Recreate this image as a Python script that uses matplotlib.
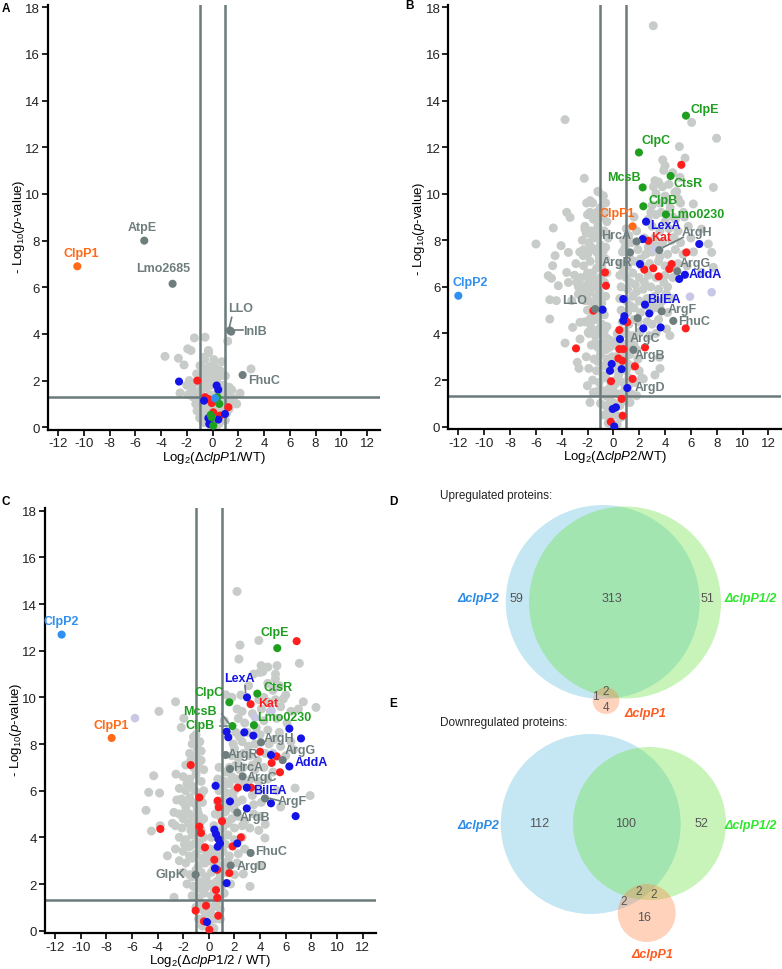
import numpy as np
import matplotlib
matplotlib.use("Agg")
import matplotlib.pyplot as plt
from matplotlib.patches import Circle

plt.rcParams['font.family'] = ['Liberation Sans', 'DejaVu Sans']
plt.rcParams['mathtext.fontset'] = 'custom'
plt.rcParams['mathtext.rm'] = 'Liberation Sans'
plt.rcParams['mathtext.it'] = 'Liberation Sans:italic'
plt.rcParams['mathtext.bf'] = 'Liberation Sans:bold'

# ---------------- colours ----------------
C_GREY = '#c8ccc9'
C_DARK = '#6e7d7d'
C_RED = '#ff1f1f'
C_BLUE = '#1414e6'
C_GREEN = '#1f9f1f'
C_ORANGE = '#ff6a1a'
C_LBLUE = '#3090f0'
C_LAV = '#c8c8e6'
C_LINE = '#6b7b7b'

# ---------------- Panel A data ----------------
a_grey = [(-1.41, 3.83), (-0.58, 3.86), (-1.93, 3.36), (-1.67, 3.29), (-0.32, 3.29), (-3.69, 3.04),
          (-2.65, 2.96), (-0.66, 3.0), (1.18, 3.69), (-2.21, 2.67), (0.71, 2.81), (2.99, 2.5),
          (0.06, 2.71), (-0.97, 2.64), (-0.58, 2.5), (-1.23, 2.29), (0.19, 2.36), (0.58, 2.43),
          (-1.8, 2.0), (-0.84, 2.07), (-0.32, 2.14), (1.31, 1.71), (2.14, 1.46), (-2.52, 1.47),
          (-1.54, 1.53), (1.62, 1.24), (1.88, 1.0),
          (-1.5, 1.3), (-1.2, 1.5), (-0.9, 1.6), (-0.5, 1.7), (-0.1, 1.8), (0.4, 1.5), (0.8, 1.4),
          (1.1, 1.3), (1.4, 1.1), (-1.3, 1.0), (-1.0, 1.1), (-0.6, 1.3), (-0.2, 1.4), (0.2, 1.2),
          (0.6, 1.1), (1.0, 1.0), (1.3, 0.8), (-1.2, 0.7), (-0.8, 0.8), (-0.4, 0.9), (0.0, 0.9),
          (0.4, 0.8), (0.8, 0.7), (1.1, 0.6), (-1.0, 0.4), (-0.6, 0.5), (-0.2, 0.6), (0.3, 0.5),
          (0.7, 0.4), (1.0, 0.3), (-0.7, 0.2), (-0.3, 0.25), (0.1, 0.2), (0.5, 0.15), (-0.1, 0.05),
          (0.3, 0.05), (-1.6, 1.7), (-0.9, 2.2), (-0.3, 2.3), (0.3, 2.0), (0.9, 1.8), (1.5, 1.6),
          (-1.9, 1.4), (0.1, 2.9), (-0.3, 3.2), (0.3, 2.5), (1.0, 2.2), (-0.6, 2.9), (0.6, 2.2),
          (-1.4, 1.9), (-1.1, 1.3), (-0.8, 1.2), (-0.4, 1.1), (0.1, 1.0), (0.5, 1.3), (0.9, 1.2),
          (1.2, 1.0), (-0.9, 0.6), (-0.5, 0.7), (0.1, 0.6), (0.6, 0.6), (0.9, 0.5), (-0.4, 0.4),
          (0.2, 0.35), (-0.8, 1.8), (-0.4, 2.0), (0.0, 2.3), (0.6, 1.8), (1.2, 1.5), (-2.0, 1.8),
          (-0.2, 2.6)]
a_red = [(-1.18, 2.0), (-0.32, 1.21), (-0.06, 1.04), (1.23, 0.86), (0.06, 0.64), (0.58, 0.5),
         (-0.19, 0.29), (-0.58, 1.29)]
a_blue = [(-2.6, 1.96), (0.32, 1.79), (0.45, 1.61), (-0.66, 1.14), (-0.32, 0.39), (0.45, 0.33),
          (0.97, 0.57), (-0.25, 0.14)]
a_green = [(0.53, 1.0), (-0.06, 0.43), (0.06, 0.07), (-0.14, 0.53), (0.38, 1.29)]
a_lblue = [(0.19, 1.24)]
a_dark = [(-5.3, 8.0), (-3.1, 6.15), (1.35, 4.15), (1.45, 4.1), (2.34, 2.24)]
a_orange = [(-10.5, 6.9)]
a_labels = [("ClpP1", -10.16, 7.47, C_ORANGE), ("AtpE", -5.42, 8.59, C_DARK),
            ("Lmo2685", -3.82, 6.84, C_DARK), ("LLO", 2.19, 5.11, C_DARK),
            ("InlB", 3.3, 4.14, C_DARK), ("FhuC", 4.0, 2.04, C_DARK)]
a_lines = [((1.49, 4.71), (1.31, 4.29)), ((1.75, 4.15), (2.4, 4.15))]

# ---------------- Panel B data ----------------
b_grey = [(3.09, 17.21), (-3.74, 13.18), (6.06, 13.06), (7.99, 12.38), (5.11, 12.02), (5.55, 11.53),
          (3.82, 11.45), (4.0, 11.2), (-2.25, 10.66), (3.22, 10.56), (5.16, 10.7), (7.74, 10.27),
          (-1.16, 10.09), (-0.78, 9.91), (-2.07, 9.6), (4.77, 10.06), (5.03, 9.77), (6.19, 9.56),
          (5.42, 9.2), (-3.61, 9.2), (-3.35, 8.98), (-1.81, 9.2), (-1.55, 8.91), (-4.65, 8.53),
          (-2.2, 8.48), (6.83, 8.48), (-5.99, 7.84), (-4.05, 7.77), (-3.48, 7.48), (-4.51, 7.34),
          (-2.33, 7.34), (4.69, 8.13), (7.35, 7.84), (7.61, 7.48), (-4.7, 6.91), (-5.04, 6.48),
          (-4.79, 6.37), (-3.61, 6.62), (-4.26, 6.05), (-3.48, 6.19), (-2.84, 6.19), (-2.45, 6.05),
          (-2.07, 6.05), (-1.81, 5.77), (-4.92, 5.45), (-4.41, 5.41), (-2.71, 5.69), (-3.22, 5.41),
          (-2.2, 5.41), (7.74, 6.84), (6.83, 6.62), (-4.92, 4.62), (-3.15, 4.26),
          (-2.58, 4.48), (-1.81, 4.62), (-3.74, 3.59), (-2.58, 3.76), (-1.94, 4.05), (4.38, 3.91),
          (4.12, 4.19), (3.56, 2.98), (3.61, 2.5), (3.22, 2.22), (2.32, 2.05), (-2.66, 2.5),
          (-2.79, 2.76), (-2.01, 1.76), (-1.55, 1.47), (-1.81, 1.04), (1.29, 1.04), (1.8, 1.33),
          (-1.2, 10.1), (-0.8, 9.9), (-1.6, 9.6), (-1.0, 9.4), (-0.6, 9.6),
          (-2.0, 9.1), (-1.4, 8.9), (-0.9, 9.0), (-0.5, 8.8),
          (-2.2, 8.6), (-1.7, 8.4), (-1.2, 8.6), (-0.7, 8.4), (-0.4, 8.1),
          (-2.4, 8.0), (-1.9, 7.9), (-1.4, 8.1), (-1.0, 7.8), (-0.6, 7.7),
          (-2.6, 7.5), (-2.0, 7.4), (-1.5, 7.6), (-1.1, 7.3), (-0.6, 7.2),
          (-2.9, 7.0), (-2.3, 6.9), (-1.8, 7.1), (-1.3, 6.8), (-0.9, 6.9), (-0.5, 6.6),
          (-3.0, 6.5), (-2.5, 6.4), (-2.0, 6.6), (-1.5, 6.3), (-1.0, 6.4),
          (-2.7, 6.0), (-2.2, 5.9), (-1.6, 6.0), (-1.1, 5.8),
          (-2.4, 5.5), (-1.9, 5.4), (-1.3, 5.6), (-0.9, 5.3),
          (-2.0, 5.0), (-1.6, 4.9), (-1.2, 5.1), (-0.7, 4.8),
          (-2.2, 4.5), (-1.8, 4.4), (-1.4, 4.6), (-0.9, 4.4), (-0.5, 4.3),
          (-1.9, 4.0), (-1.4, 3.9), (-1.0, 4.0), (-0.5, 3.8),
          (-1.7, 3.5), (-1.2, 3.4), (-0.8, 3.6), (-0.3, 3.4),
          (-2.1, 3.0), (-1.5, 2.9), (-1.0, 3.1), (-0.5, 2.9), (-0.1, 3.0),
          (-1.9, 2.5), (-1.3, 2.4), (-0.8, 2.6), (-0.3, 2.4),
          (-1.6, 2.0), (-1.1, 1.9), (-0.6, 2.1), (-0.2, 1.9),
          (-1.3, 1.5), (-0.8, 1.4), (-0.4, 1.6),
          (-1.0, 1.0), (-0.6, 0.9), (-0.2, 1.1),
          (-0.7, 0.5), (-0.3, 0.4), (-0.4, 0.15),
          (0.3, 4.0), (0.9, 4.1), (1.4, 3.9),
          (0.1, 3.5), (0.6, 3.6), (1.1, 3.4), (1.6, 3.5),
          (0.2, 3.0), (0.9, 2.9), (1.3, 3.1), (1.9, 2.9),
          (0.0, 2.5), (0.5, 2.6), (1.0, 2.4), (1.5, 2.6), (2.0, 2.4),
          (0.2, 2.0), (0.7, 1.9), (1.2, 2.1), (1.7, 1.9), (2.2, 2.1),
          (0.0, 1.5), (0.4, 1.4), (0.9, 1.6), (1.4, 1.4),
          (0.1, 1.0), (0.5, 0.9), (1.0, 1.1),
          (0.2, 0.5), (0.6, 0.4), (0.3, 0.1),
          (3.9, 11.0), (4.6, 10.9), (3.5, 10.5), (4.3, 10.4),
          (3.3, 10.0), (4.0, 9.9), (4.9, 10.1),
          (3.0, 9.5), (3.6, 9.6), (4.4, 9.4), (5.2, 9.6),
          (1.6, 9.0), (2.7, 8.9), (3.3, 9.1), (4.8, 8.9), (5.5, 9.0),
          (1.0, 8.5), (1.8, 8.4), (3.0, 8.6), (3.6, 8.4), (4.3, 8.5), (5.0, 8.4), (5.8, 8.6),
          (0.8, 8.0), (1.4, 7.9), (3.2, 8.1), (3.8, 7.9), (4.5, 8.0), (5.2, 7.9), (6.0, 8.1),
          (0.7, 7.5), (1.2, 7.4), (1.9, 7.6), (2.5, 7.4), (3.0, 7.5), (4.2, 7.4), (4.8, 7.6),
          (5.4, 7.4), (6.2, 7.5),
          (0.6, 7.0), (1.1, 6.9), (1.6, 7.1), (2.2, 6.9), (2.8, 7.0), (3.5, 7.1), (4.0, 6.9),
          (5.0, 7.0), (5.7, 6.9),
          (0.5, 6.5), (1.0, 6.4), (1.5, 6.6), (2.0, 6.4), (2.7, 6.5), (3.3, 6.4), (4.0, 6.5),
          (4.6, 6.4),
          (0.6, 6.0), (1.1, 5.9), (1.7, 6.1), (2.3, 5.9), (2.9, 6.0), (3.5, 5.9), (4.2, 6.0),
          (0.5, 5.5), (1.0, 5.4), (1.5, 5.6), (2.0, 5.4), (2.6, 5.5), (3.2, 5.6), (3.8, 5.4),
          (4.5, 5.5),
          (0.6, 5.0), (1.1, 4.9), (1.6, 5.1), (2.1, 4.9), (2.9, 5.0), (3.4, 5.1), (4.2, 4.9),
          (0.7, 4.5), (1.2, 4.4), (1.6, 4.6), (2.6, 4.5), (3.0, 4.4), (3.5, 4.6),
          (1.0, 4.0), (1.6, 3.9), (2.1, 4.1), (2.8, 3.9), (3.3, 4.0),
          (-1.8, 9.7), (-1.3, 9.2), (-0.7, 9.2), (-1.1, 8.3), (-1.6, 8.2), (-2.1, 8.3), (-0.8, 7.5),
          (-1.3, 7.5), (-1.7, 7.7), (-2.3, 7.6), (-1.1, 7.1), (-1.6, 6.6), (-0.7, 6.2), (-1.3, 6.1),
          (-1.9, 6.3), (-0.6, 5.6), (-1.1, 5.5), (-1.6, 5.3), (-2.1, 5.6), (-0.9, 4.9), (-1.4, 4.8),
          (-1.7, 4.2), (-1.1, 4.2), (-0.7, 4.1), (-1.4, 3.6), (-1.0, 3.5), (-0.6, 3.3), (-0.2, 3.7),
          (-1.2, 2.8), (-0.8, 2.2), (-0.4, 2.7), (-1.0, 1.6), (-0.5, 1.3), (-0.4, 0.7), (0.0, 0.7),
          (0.1, 1.8), (0.4, 2.2), (0.3, 2.8), (0.6, 3.1), (0.4, 3.8), (0.7, 1.3), (1.2, 1.8),
          (1.1, 2.7), (1.3, 3.6), (0.9, 3.3), (1.8, 3.3), (1.9, 4.5), (1.3, 5.2), (1.8, 5.8),
          (1.3, 6.2), (0.8, 6.7), (1.3, 7.2), (0.9, 7.7), (1.2, 8.2), (2.4, 6.2), (2.5, 5.2),
          (2.1, 7.2), (2.4, 8.1), (2.7, 7.7), (3.2, 7.8), (3.6, 7.3), (3.9, 6.2), (3.1, 5.3),
          (3.6, 5.1), (4.1, 5.7), (4.4, 6.8), (4.8, 6.9), (4.0, 8.8), (3.8, 10.3), (4.2, 9.7),
          (4.6, 9.0), (2.9, 9.2), (3.1, 10.3), (3.7, 9.2)]
b_lav = [(7.61, 5.77), (5.93, 5.58), (3.2, 7.6)]
b_red = [(5.26, 11.24), (5.65, 7.48), (2.4, 6.74), (3.09, 6.8), (3.51, 6.45), (4.51, 6.98),
         (4.33, 6.77), (-0.65, 6.62), (-0.57, 6.05), (-1.55, 4.98), (1.08, 4.48), (0.46, 4.15),
         (-2.89, 3.36), (0.46, 3.33), (0.77, 3.33), (0.39, 2.93), (0.7, 2.83), (1.67, 2.59),
         (2.45, 3.4), (1.49, 2.05), (-0.18, 1.95), (0.64, 1.19), (0.72, 0.47), (-0.2, 0.21),
         (5.6, 4.22), (0.95, 4.55), (2.71, 7.98)]
b_blue = [(2.27, 8.05), (2.06, 6.98), (6.65, 7.84), (0.77, 5.48), (-0.83, 5.02), (0.85, 4.74),
          (0.77, 4.55), (2.78, 4.86), (2.32, 4.22), (3.66, 4.26), (0.51, 3.76), (-0.13, 2.69),
          (-0.26, 2.4), (0.64, 2.47), (-0.05, 0.76), (0.2, 0.83), (0.07, 0.01), (2.53, 8.8),
          (5.54, 6.52), (5.1, 6.34), (2.45, 5.24), (1.08, 1.66)]
b_green = [(5.62, 13.35), (1.98, 11.77), (2.27, 10.27), (4.43, 10.76), (2.32, 9.46), (4.07, 9.11)]
b_dark = [(1.8, 7.95), (3.56, 7.58), (1.29, 7.48), (4.95, 6.67), (3.74, 4.95), (4.64, 4.54),
          (1.88, 4.66), (1.55, 3.3), (-1.4, 5.05)]
b_orange = [(1.49, 8.6)]
b_lblue = [(-12.0, 5.62)]
b_labels = [("ClpP2", -11.05, 6.19, C_LBLUE), ("ClpE", 7.09, 13.63, C_GREEN),
            ("ClpC", 3.27, 12.3, C_GREEN), ("McsB", 0.82, 10.7, C_GREEN),
            ("CtsR", 5.75, 10.46, C_GREEN), ("ClpB", 3.82, 9.73, C_GREEN),
            ("Lmo0230", 6.5, 9.13, C_GREEN), ("ClpP1", 0.31, 9.16, C_ORANGE),
            ("LexA", 4.0, 8.66, C_BLUE), ("HrcA", 0.18, 8.23, C_DARK), ("Kat", 3.74, 8.15, C_RED),
            ("ArgH", 6.45, 8.34, C_DARK), ("ArgR", 0.25, 7.05, C_DARK),
            ("ArgG", 6.32, 7.01, C_DARK), ("AddA", 7.09, 6.55, C_BLUE), ("LLO", -2.97, 5.44, C_DARK),
            ("BilEA", 3.92, 5.48, C_BLUE), ("ArgF", 5.34, 5.05, C_DARK), ("FhuC", 6.24, 4.54, C_DARK),
            ("ArgC", 2.45, 3.79, C_DARK), ("ArgB", 2.84, 3.08, C_DARK), ("ArgD", 2.84, 1.72, C_DARK)]
b_lines = [((3.87, 7.7), (5.41, 8.13)), ((1.75, 4.4), (1.75, 4.12))]

# ---------------- Panel C data ----------------
c_grey = [(2.2, 14.54), (3.9, 12.44), (2.43, 12.24), (2.35, 11.64), (4.08, 11.36), (5.32, 11.36),
          (7.06, 11.46), (3.98, 11.07), (1.32, 10.11), (5.19, 10.79), (5.81, 9.93), (7.37, 9.81),
          (8.36, 9.57), (6.99, 9.5), (-2.59, 9.81), (-3.89, 9.4), (-1.95, 9.1), (-2.15, 8.71),
          (-1.05, 8.07), (6.6, 7.76), (6.73, 6.11), (7.9, 5.79), (-2.56, 6.71), (-4.3, 6.64),
          (-4.69, 5.93), (-3.84, 5.9), (-4.9, 5.16), (-2.14, 5.64), (-2.72, 5.07), (-2.84, 4.6),
          (-4.48, 4.27), (-3.8, 4.5), (-3.23, 3.21), (-2.71, 1.43), (3.21, 1.9), (4.38, 3.97),
          (4.4, 4.56), (3.99, 2.79), (2.69, 2.43),
          (-1.0, 8.4), (-0.7, 8.1), (-1.3, 8.0),
          (-1.5, 7.6), (-1.0, 7.5), (-0.6, 7.7),
          (-1.8, 7.1), (-1.2, 7.0), (-0.8, 7.2), (-0.4, 6.9),
          (-2.0, 6.6), (-1.5, 6.5), (-1.0, 6.7), (-0.6, 6.4),
          (-2.3, 6.1), (-1.8, 6.0), (-1.3, 6.2), (-0.8, 5.9), (-0.4, 6.0),
          (-2.5, 5.6), (-2.0, 5.5), (-1.5, 5.7), (-1.0, 5.4), (-0.5, 5.5),
          (-2.3, 5.0), (-1.8, 5.1), (-1.3, 4.9), (-0.8, 5.0), (-0.4, 4.8),
          (-2.6, 4.5), (-2.1, 4.4), (-1.6, 4.6), (-1.1, 4.5), (-0.6, 4.3),
          (-2.3, 4.0), (-1.8, 3.9), (-1.3, 4.1), (-0.9, 3.8), (-0.4, 4.0),
          (-2.6, 3.5), (-2.0, 3.4), (-1.5, 3.6), (-1.0, 3.3), (-0.5, 3.5), (-0.1, 3.3),
          (-2.3, 3.0), (-1.8, 2.9), (-1.3, 3.1), (-0.8, 2.8), (-0.3, 2.9),
          (-2.0, 2.5), (-1.5, 2.4), (-0.6, 2.5), (-0.2, 2.3),
          (-1.7, 2.0), (-1.2, 1.9), (-0.7, 2.1), (-0.3, 1.8),
          (-1.3, 1.5), (-0.8, 1.4), (-0.4, 1.6),
          (-1.0, 1.0), (-0.5, 0.9), (-0.1, 1.1),
          (-0.8, 0.5), (-0.3, 0.6), (-0.5, 0.2), (0.0, 0.3),
          (0.5, 5.0), (0.9, 4.9), (1.3, 5.1), (1.8, 4.8), (2.3, 4.9), (2.8, 4.7),
          (0.4, 4.5), (1.1, 4.4), (1.5, 4.6), (2.0, 4.4), (2.6, 4.5), (3.2, 4.4),
          (0.2, 4.0), (1.0, 3.9), (1.5, 4.1), (2.0, 3.9), (2.6, 4.0),
          (0.1, 3.5), (0.4, 3.3), (1.1, 3.4), (1.6, 3.2), (2.3, 3.3), (2.8, 3.5),
          (0.0, 3.0), (0.6, 2.9), (1.1, 2.8), (1.5, 3.0), (2.2, 2.9),
          (0.2, 2.5), (0.9, 2.4), (1.3, 2.5), (2.0, 2.4),
          (0.1, 2.0), (0.6, 2.1), (1.0, 1.9), (1.7, 2.0),
          (0.2, 1.5), (0.8, 1.4), (1.2, 1.6),
          (0.3, 1.0), (0.9, 0.9), (0.5, 0.5), (0.9, 0.5), (0.4, 0.1),
          (3.5, 11.0), (4.2, 11.1), (5.2, 11.0), (4.6, 11.3),
          (3.1, 10.5), (4.6, 10.6), (5.5, 10.5),
          (1.8, 10.0), (2.5, 10.1), (4.3, 10.0), (5.2, 9.9), (6.0, 10.1),
          (2.2, 9.5), (4.1, 9.5), (4.8, 9.4), (5.6, 9.6), (6.4, 9.4),
          (1.2, 9.0), (2.3, 9.1), (2.8, 8.9), (4.3, 9.0), (5.3, 9.1), (6.1, 8.9),
          (2.1, 8.5), (4.0, 8.4), (4.6, 8.6), (5.5, 8.5),
          (1.9, 8.0), (2.6, 8.1), (3.1, 7.9), (3.6, 8.0), (4.7, 8.0), (5.6, 7.9), (6.4, 8.1),
          (1.8, 7.5), (2.3, 7.4), (3.2, 7.5), (3.8, 7.3), (4.4, 7.6), (6.0, 7.5),
          (0.8, 7.0), (1.3, 6.8), (2.1, 7.1), (2.7, 7.0), (3.6, 6.9), (4.3, 7.0), (5.0, 6.8),
          (0.7, 6.5), (1.2, 6.4), (1.8, 6.6), (2.4, 6.3), (3.3, 6.5), (3.9, 6.4), (4.6, 6.5),
          (0.8, 6.0), (1.4, 5.9), (2.0, 6.0), (3.4, 5.8), (3.9, 6.0), (5.3, 6.0),
          (0.7, 5.5), (1.1, 5.6), (2.2, 5.5), (2.6, 5.6), (3.5, 5.4), (4.1, 5.5), (5.6, 5.3),
          (3.5, 5.0), (4.0, 4.9), (3.9, 4.3),
          (-1.2, 8.3), (-0.9, 7.8), (-1.4, 7.3), (-0.6, 7.3), (-1.0, 6.9), (-1.7, 6.3), (-1.1, 6.0),
          (-0.6, 5.8), (-1.3, 5.5), (-1.8, 5.3), (-0.9, 5.2), (-1.5, 5.0), (-2.0, 4.8), (-1.0, 4.8),
          (-0.6, 4.7), (-1.4, 4.3), (-0.8, 4.2), (-1.9, 3.7), (-1.2, 3.7), (-0.7, 3.7), (-1.5, 3.2),
          (-0.5, 3.1), (-1.0, 2.6), (-1.3, 2.3), (-0.4, 2.1), (-0.9, 1.8), (-0.6, 1.2), (-0.2, 0.8),
          (0.2, 0.7), (0.6, 1.2), (0.4, 1.8), (0.8, 2.2), (0.4, 2.7), (0.8, 3.2), (1.3, 3.7),
          (0.7, 4.2), (1.2, 4.7), (0.9, 5.3), (1.5, 5.3), (2.0, 5.2), (1.9, 5.7), (1.1, 6.2),
          (1.6, 6.3), (2.1, 6.5), (2.9, 6.3), (1.6, 7.0), (2.4, 6.9), (2.0, 7.8), (2.7, 7.6),
          (3.4, 7.1), (2.4, 8.3), (3.0, 8.5), (3.7, 8.7), (2.6, 9.4), (3.4, 9.3), (3.9, 9.9),
          (4.6, 9.8), (5.0, 10.3), (5.1, 8.2), (5.0, 7.6)]
c_lav = [(-5.76, 9.11), (4.9, 9.43), (3.6, 9.14)]
c_red = [(6.85, 12.41), (3.26, 9.71), (3.99, 7.67), (5.29, 7.47), (4.9, 7.19), (5.55, 6.79),
         (-1.41, 7.1), (2.26, 6.13), (3.3, 6.13), (-0.74, 5.71), (0.69, 5.57), (0.77, 5.29),
         (1.03, 4.69), (-3.78, 4.36), (-0.74, 4.46), (-0.61, 4.19), (-0.3, 3.57), (2.5, 4.0),
         (1.85, 3.61), (0.43, 3.04), (0.66, 2.61), (1.6, 2.47), (0.56, 1.74), (0.66, 1.41),
         (-0.22, 1.07), (-1.03, 0.86), (0.74, 0.64), (-0.38, 0.4), (0.04, 0.04)]
c_blue = [(2.98, 10.0), (1.39, 8.53), (1.52, 8.29), (2.77, 8.5), (3.47, 8.36), (6.28, 8.66),
          (7.19, 8.24), (4.85, 7.53), (6.28, 7.04), (2.96, 6.13), (0.53, 6.21), (4.85, 5.46),
          (1.65, 5.54), (2.96, 5.24), (6.77, 4.91), (0.43, 4.33), (0.56, 4.14), (0.74, 3.93),
          (0.87, 3.74), (0.69, 3.6), (2.22, 3.74), (0.48, 2.67), (1.39, 2.04), (-0.14, 0.37)]
c_green = [(5.34, 12.11), (3.78, 10.16), (1.6, 9.79), (1.84, 8.77), (3.52, 8.81)]
c_dark = [(4.07, 8.07), (5.76, 7.31), (1.31, 7.53), (1.65, 6.93), (2.64, 6.61), (4.38, 5.67),
          (2.22, 5.06), (3.26, 3.33), (1.7, 2.79), (-1.03, 2.4)]
c_orange = [(-7.58, 8.26)]
c_lblue = [(-11.48, 12.69)]
c_labels = [("ClpP2", -11.48, 13.29, C_LBLUE), ("ClpP1", -7.63, 8.83, C_ORANGE),
            ("ClpE", 5.16, 12.81, C_GREEN), ("LexA", 2.35, 10.83, C_BLUE),
            ("CtsR", 5.37, 10.43, C_GREEN), ("ClpC", 0.01, 10.21, C_GREEN),
            ("Kat", 4.64, 9.74, C_RED), ("McsB", -0.69, 9.4, C_GREEN),
            ("Lmo0230", 5.86, 9.17, C_GREEN), ("ClpB", -0.69, 8.83, C_GREEN),
            ("ArgH", 5.47, 8.24, C_DARK), ("ArgG", 7.11, 7.74, C_DARK), ("ArgR", 2.69, 7.57, C_DARK),
            ("AddA", 7.97, 7.21, C_BLUE), ("HrcA", 3.03, 7.03, C_DARK), ("ArgC", 4.17, 6.57, C_DARK),
            ("BilEA", 4.77, 6.03, C_BLUE), ("ArgF", 6.51, 5.57, C_DARK), ("ArgB", 3.6, 4.86, C_DARK),
            ("FhuC", 4.85, 3.43, C_DARK), ("ArgD", 3.34, 2.79, C_DARK), ("GlpK", -3.03, 2.43, C_DARK)]
c_lines = [((2.82, 10.5), (2.87, 10.21)), ((1.0, 9.29), (1.6, 8.86)), ((0.87, 8.79), (1.39, 8.79)),
           ((4.77, 5.67), (5.5, 5.57))]

# ---------------- Venn data ----------------
up_counts = ["59", "313", "51", "1", "2", "4"]
down_counts = ["112", "100", "52", "2", "2", "2", "16"]
set_names = ["\u0394clpP2", "\u0394clpP1/2", "\u0394clpP1"]

xticks = [-12, -10, -8, -6, -4, -2, 0, 2, 4, 6, 8, 10, 12]
yticks = [0, 2, 4, 6, 8, 10, 12, 14, 16, 18]

W, H = 782, 970
fig = plt.figure(figsize=(W / 100, H / 100), dpi=100)

# full-figure overlay for venn + letters
ov = fig.add_axes([0, 0, 1, 1])
ov.set_xlim(0, W)
ov.set_ylim(H, 0)
ov.set_axis_off()


def volcano(rect, grey, lav, red, blue, green, dark, orange, lblue, labels, lines, xlabel, ylab_y):
    ax = fig.add_axes(rect)
    ax.set_xlim(-12.8, 13)
    ax.set_ylim(-0.1, 18.1)

    def sc(pts, col, z, s):
        if pts:
            arr = np.array(pts)
            ax.scatter(arr[:, 0], arr[:, 1], s=s, c=col, edgecolors='none', zorder=z)
    sc(grey, C_GREY, 2, 42)
    sc(lav, C_LAV, 2.1, 38)
    ax.axvline(-1, color=C_LINE, lw=1.8, zorder=2.5)
    ax.axvline(1, color=C_LINE, lw=1.8, zorder=2.5)
    ax.axhline(1.3, color=C_LINE, lw=1.8, zorder=2.5)
    sc(red, C_RED, 3, 34)
    sc(blue, C_BLUE, 3.1, 34)
    sc(green, C_GREEN, 3.2, 34)
    sc(dark, C_DARK, 3.3, 34)
    sc(orange, C_ORANGE, 3.4, 34)
    sc(lblue, C_LBLUE, 3.4, 34)
    for (x0, y0), (x1, y1) in lines:
        ax.plot([x0, x1], [y0, y1], color=C_DARK, lw=1.2, zorder=3.5)
    for t, x, y, col in labels:
        ax.text(x, y, t, color=col, fontsize=9, fontweight='bold', ha='center', va='center', zorder=4)
    for sp in ['top', 'right']:
        ax.spines[sp].set_visible(False)
    for sp in ['left', 'bottom']:
        ax.spines[sp].set_linewidth(1.6)
        ax.spines[sp].set_color('black')
    ax.set_xticks(xticks)
    ax.set_xticklabels([str(v) for v in xticks])
    ax.set_yticks(yticks)
    ax.tick_params(axis='both', direction='out', length=4, width=1.2, labelsize=9.5,
                   labelcolor='#222222', pad=1.5)
    ax.set_xlabel(xlabel, fontsize=9.5)
    ax.set_ylabel(r"- Log$_{10}$($\it{p}$-value)", fontsize=9.5)
    ax.xaxis.set_label_coords(0.5, -0.064)
    ax.xaxis.label.set_va('center')
    ax.yaxis.set_label_coords(-0.087, ylab_y)
    ax.yaxis.label.set_va('center')
    ax.patch.set_alpha(0)
    return ax


axA = volcano([47.7 / W, (H - 430.6) / H, 332.2 / W, 424.6 / H], a_grey, [], a_red, a_blue, a_green,
              a_dark, a_orange, a_lblue, a_labels, a_lines, r"Log$_2$($\Delta$$\it{clpP1}$/WT)", 0.48)
axB = volcano([448.0 / W, (H - 430.0) / H, 333.3 / W, 424.0 / H], b_grey, b_lav, b_red, b_blue, b_green,
              b_dark, b_orange, b_lblue, b_labels, b_lines, r"Log$_2$($\Delta$$\it{clpP2}$/WT)", 0.475)
axC = volcano([44.7 / W, (H - 934.0) / H, 330.8 / W, 424.6 / H], c_grey, c_lav, c_red, c_blue, c_green,
              c_dark, c_orange, c_lblue, c_labels, c_lines, r"Log$_2$($\Delta$$\it{clpP1/2}$ / WT)", 0.48)

# ---------------- Venn diagrams (pixel coords in overlay) ----------------
BLUE_F = '#59bddd'
GREEN_F = '#65e237'
ORANGE_F = '#ff8040'
COL_P2 = '#2a8ae8'
COL_P12 = '#2ee82e'
COL_P1 = '#ff5a1e'
NUM_C = '#555555'

# D: upregulated
ov.add_patch(Circle((602.7, 603), 97, facecolor=BLUE_F, alpha=0.35, edgecolor='none'))
ov.add_patch(Circle((625, 603.5), 96, facecolor=GREEN_F, alpha=0.35, edgecolor='none'))
ov.add_patch(Circle((606, 701.7), 13.3, facecolor=ORANGE_F, alpha=0.35, edgecolor='none'))
ov.text(440, 496, "Upregulated proteins:", fontsize=8.5, ha='left', va='center', color='#222222')
ov.text(478, 599, set_names[0], fontsize=9, fontweight='bold', fontstyle='italic', color=COL_P2,
        ha='center', va='center')
ov.text(751, 599, set_names[1], fontsize=9, fontweight='bold', fontstyle='italic', color=COL_P12,
        ha='center', va='center')
ov.text(645, 714, set_names[2], fontsize=9, fontweight='bold', fontstyle='italic', color=COL_P1,
        ha='center', va='center')
for t, (x, y) in zip(up_counts, [(516.7, 599), (612, 599), (707.7, 599), (595.7, 697), (605.7, 692),
                                 (606, 708)]):
    ov.text(x, y, t, fontsize=9 if len(t) > 1 else 8.5, color=NUM_C, ha='center', va='center')

# E: downregulated
ov.add_patch(Circle((590.7, 825), 90, facecolor=BLUE_F, alpha=0.35, edgecolor='none'))
ov.add_patch(Circle((649.5, 824.5), 76.5, facecolor=GREEN_F, alpha=0.35, edgecolor='none'))
ov.add_patch(Circle((646.7, 914), 29, facecolor=ORANGE_F, alpha=0.35, edgecolor='none'))
ov.text(440, 722.7, "Downregulated proteins:", fontsize=8.5, ha='left', va='center', color='#222222')
ov.text(478, 826, set_names[0], fontsize=9, fontweight='bold', fontstyle='italic', color=COL_P2,
        ha='center', va='center')
ov.text(751, 826, set_names[1], fontsize=9, fontweight='bold', fontstyle='italic', color=COL_P12,
        ha='center', va='center')
ov.text(652.7, 955, set_names[2], fontsize=9, fontweight='bold', fontstyle='italic', color=COL_P1,
        ha='center', va='center')
for t, (x, y) in zip(down_counts, [(539, 824), (626, 824), (701, 824), (638.3, 892.3), (653.7, 895),
                                   (623.3, 902.3), (644.3, 918.3)]):
    ov.text(x, y, t, fontsize=9 if len(t) > 1 else 8.5, color=NUM_C, ha='center', va='center')

# panel letters
for t, x, y in [("A", 6, 9), ("B", 410, 6), ("C", 6, 502), ("D", 393, 502), ("E", 393, 704)]:
    ov.text(x, y, t, fontsize=8.5, fontweight='bold', ha='center', va='center', color='black')

fig.savefig("out.png", dpi=100)
